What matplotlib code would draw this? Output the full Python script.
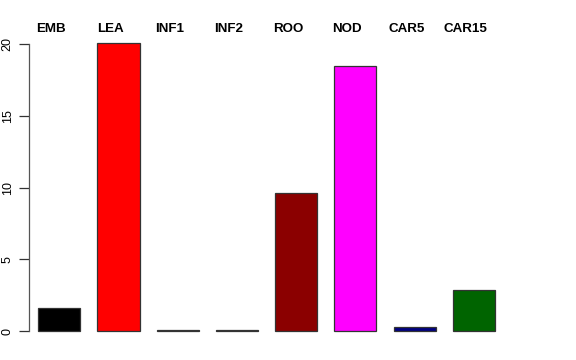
import matplotlib
matplotlib.use('Agg')
import matplotlib.pyplot as plt

plt.rcParams['font.family'] = ['Liberation Sans', 'DejaVu Sans']

categories = ['EMB', 'LEA', 'INF1', 'INF2', 'ROO', 'NOD', 'CAR5', 'CAR15']
values = [1.6, 20.1, 0.06, 0.06, 9.65, 18.5, 0.25, 2.86]
colors = ['black', 'red', 'black', 'black', '#8B0000', 'magenta', '#000080', '#006400']
yticks = [0, 5, 10, 15, 20]

fig = plt.figure(figsize=(5.76, 3.6), dpi=100)
ax = fig.add_axes([0.0503, 0.0486, 0.825, 0.8603])

x = list(range(len(categories)))
ax.bar(x, values, width=0.71, color=colors, edgecolor='#333333', linewidth=0.9)

ax.set_xlim(-0.512, 7.512)
ax.set_ylim(-0.8, 20.8)

for s in ['top', 'right', 'bottom']:
    ax.spines[s].set_visible(False)
ax.spines['left'].set_bounds(0, 20)
ax.spines['left'].set_color('#555555')
ax.spines['left'].set_linewidth(0.9)

ax.set_xticks([])
ax.set_yticks(yticks)
ax.set_yticklabels([str(t) for t in yticks], rotation=90, va='center', fontsize=9)
ax.tick_params(axis='y', length=7, width=0.9, color='#333333', pad=4)

for i, c in enumerate(categories):
    ax.text(i - 0.135, 21.05, c, ha='center', va='center', fontsize=9.6,
            fontweight='bold', clip_on=False)

fig.savefig('out.png', dpi=100)
